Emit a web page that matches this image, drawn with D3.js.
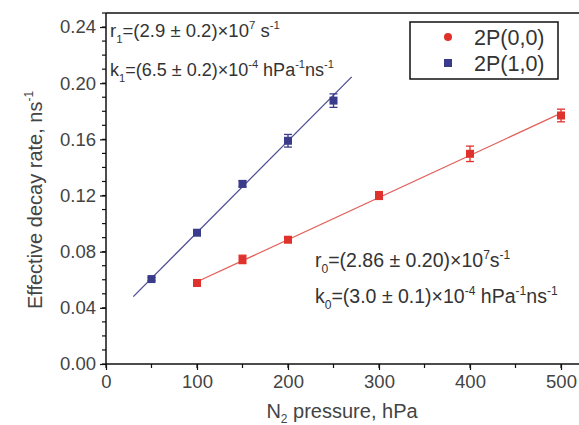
<!DOCTYPE html>
<html>
<head>
<meta charset="utf-8">
<script src="https://cdn.jsdelivr.net/npm/d3@7"></script>
<style>
  html, body { margin: 0; padding: 0; background: #fff; }
  svg { display: block; font-family: "Liberation Sans", Arial, sans-serif; }
</style>
</head>
<body>
<svg id="chart" width="579" height="425"></svg>
<script>
// Measured decay rates vs N2 pressure
const pressure0 = [100, 150, 200, 300, 400, 500];
const rate0     = [0.0577, 0.0745, 0.0885, 0.1200, 0.1497, 0.1770];
const err0      = [0.0012, 0.0030, 0.0018, 0.0028, 0.0055, 0.0045];

const pressure1 = [50, 100, 150, 200, 250];
const rate1     = [0.0605, 0.0935, 0.1283, 0.1590, 0.1876];
const err1      = [0.0010, 0.0012, 0.0022, 0.0045, 0.0048];

// Linear fit end points
const fit0X = [100, 502];
const fit0Y = [0.0586, 0.1792];
const fit1X = [30, 270];
const fit1Y = [0.0480, 0.2045];

const xTicks = [0, 100, 200, 300, 400, 500];
const yTicks = [0.00, 0.04, 0.08, 0.12, 0.16, 0.20, 0.24];
const seriesNames = ["2P(0,0)", "2P(1,0)"];

const RED = "#e0322c", RED_LINE = "#e2605a";
const BLUE = "#3b3b8c", BLUE_LINE = "#4d4d92";

const svg = d3.select("#chart");
const mLeft = 106, mBottom = 364, mTop = 13;

const x = d3.scaleLinear().domain([0, 530]).range([mLeft, mLeft + 0.91 * 530]);
const y = d3.scaleLinear().domain([0, 0.25]).range([mBottom, mTop]);

const plot = svg.append("g");

// frame: top border
plot.append("line")
  .attr("x1", mLeft).attr("x2", 579).attr("y1", mTop).attr("y2", mTop)
  .attr("stroke", "#111").attr("stroke-width", 1.5);

// y axis
const yMinor = d3.range(0, 0.2501, 0.01);
const yAxis = svg.append("g").attr("transform", `translate(${mLeft},0)`);
yAxis.selectAll("line.minor").data(yMinor).join("line")
  .attr("class", "minor")
  .attr("x1", -4).attr("x2", 0)
  .attr("y1", d => y(d)).attr("y2", d => y(d))
  .attr("stroke", "#111").attr("stroke-width", 1.2);
yAxis.call(d3.axisLeft(y).tickValues(yTicks).tickFormat(d3.format(".2f")).tickSize(6).tickSizeOuter(0).tickPadding(4))
  .call(g => g.select(".domain").attr("stroke", "#111").attr("stroke-width", 1.5)
    .attr("d", `M0,${mBottom}V${mTop}`))
  .call(g => g.selectAll(".tick line").attr("stroke", "#111").attr("stroke-width", 1.2))
  .call(g => g.selectAll("text").attr("font-size", 18.5).attr("fill", "#444")
    .attr("font-family", "Liberation Sans, Arial, sans-serif"));

// x axis
const xMinor = d3.range(0, 531, 50);
const xAxis = svg.append("g").attr("transform", `translate(0,${mBottom})`);
xAxis.selectAll("line.minor").data(xMinor).join("line")
  .attr("class", "minor")
  .attr("x1", d => x(d)).attr("x2", d => x(d))
  .attr("y1", 0).attr("y2", 4)
  .attr("stroke", "#111").attr("stroke-width", 1.2);
xAxis.call(d3.axisBottom(x).tickValues(xTicks).tickFormat(d3.format("d")).tickSize(6).tickSizeOuter(0).tickPadding(5))
  .call(g => g.select(".domain").attr("stroke", "#111").attr("stroke-width", 1.5)
    .attr("d", `M${mLeft},0H579`))
  .call(g => g.selectAll(".tick line").attr("stroke", "#111").attr("stroke-width", 1.2))
  .call(g => g.selectAll("text").attr("font-size", 18.5).attr("fill", "#444")
    .attr("font-family", "Liberation Sans, Arial, sans-serif"));

// axis titles
const xt = svg.append("text").attr("x", 342).attr("y", 418)
  .attr("text-anchor", "middle").attr("font-size", 20).attr("fill", "#444");
xt.append("tspan").text("N");
xt.append("tspan").attr("font-size", 12).attr("dy", 5).text("2");
xt.append("tspan").attr("dy", -5).text(" pressure, hPa");

const yt = svg.append("text").attr("transform", "translate(42,200) rotate(-90)")
  .attr("text-anchor", "middle").attr("font-size", 20).attr("fill", "#444");
yt.append("tspan").text("Effective decay rate, ns");
yt.append("tspan").attr("font-size", 12).attr("dy", -9).text("-1");

// fit lines
const line = d3.line().x(d => x(d[0])).y(d => y(d[1]));
plot.append("path").datum(d3.zip(fit1X, fit1Y)).attr("d", line)
  .attr("fill", "none").attr("stroke", BLUE_LINE).attr("stroke-width", 1.3);
plot.append("path").datum(d3.zip(fit0X, fit0Y)).attr("d", line)
  .attr("fill", "none").attr("stroke", RED_LINE).attr("stroke-width", 1.3);

// points with error bars
function drawSeries(xs, ys, es, color) {
  const g = plot.append("g");
  const data = xs.map((p, i) => ({ p, v: ys[i], e: es[i] }));
  const pts = g.selectAll("g").data(data).join("g");
  pts.append("line")
    .attr("x1", d => x(d.p)).attr("x2", d => x(d.p))
    .attr("y1", d => y(d.v - d.e)).attr("y2", d => y(d.v + d.e))
    .attr("stroke", color).attr("stroke-width", 1.3);
  [-1, 1].forEach(s => {
    pts.append("line")
      .attr("x1", d => x(d.p) - 4).attr("x2", d => x(d.p) + 4)
      .attr("y1", d => y(d.v + s * d.e)).attr("y2", d => y(d.v + s * d.e))
      .attr("stroke", color).attr("stroke-width", 1.3);
  });
  pts.append("rect")
    .attr("x", d => x(d.p) - 4).attr("y", d => y(d.v) - 4)
    .attr("width", 8).attr("height", 8).attr("fill", color);
}
drawSeries(pressure1, rate1, err1, BLUE);
drawSeries(pressure0, rate0, err0, RED);

// fit parameter annotations with sub/superscripts
function annotate(xp, yp, size, segs) {
  const t = svg.append("text").attr("x", xp).attr("y", yp)
    .attr("font-size", size).attr("fill", "#333");
  let cur = 0;
  segs.forEach(([txt, kind]) => {
    const target = kind === "sub" ? 6 : kind === "sup" ? -8 : 0;
    const s = t.append("tspan").attr("dy", target - cur).text(txt);
    if (kind) s.attr("font-size", size * 0.62);
    cur = target;
  });
}
annotate(110, 37, 18.5, [["r"], ["1", "sub"], ["=(2.9 ± 0.2)×10"], ["7", "sup"], [" s"], ["-1", "sup"]]);
annotate(110, 76, 18, [["k"], ["1", "sub"], ["=(6.5 ± 0.2)×10"], ["-4", "sup"], [" hPa"], ["-1", "sup"], ["ns"], ["-1", "sup"]]);
annotate(315, 267, 19.5, [["r"], ["0", "sub"], ["=(2.86 ± 0.20)×10"], ["7", "sup"], ["s"], ["-1", "sup"]]);
annotate(315, 303, 19.5, [["k"], ["0", "sub"], ["=(3.0 ± 0.1)×10"], ["-4", "sup"], [" hPa"], ["-1", "sup"], ["ns"], ["-1", "sup"]]);

// legend
const lg = svg.append("g");
lg.append("rect").attr("x", 410).attr("y", 22).attr("width", 148).attr("height", 57)
  .attr("fill", "#fff").attr("stroke", "#111").attr("stroke-width", 1.5);
const legendColors = [RED, BLUE];
seriesNames.forEach((name, i) => {
  const cy = 37 + i * 26;
  if (i === 0) {
    lg.append("circle").attr("cx", 448).attr("cy", cy).attr("r", 4).attr("fill", legendColors[i]);
  } else {
    lg.append("rect").attr("x", 444).attr("y", cy - 4).attr("width", 8).attr("height", 8)
      .attr("fill", legendColors[i]);
  }
  lg.append("text").attr("x", 474).attr("y", cy + 8).attr("font-size", 21.5)
    .attr("fill", "#333").text(name);
});
</script>
</body>
</html>
